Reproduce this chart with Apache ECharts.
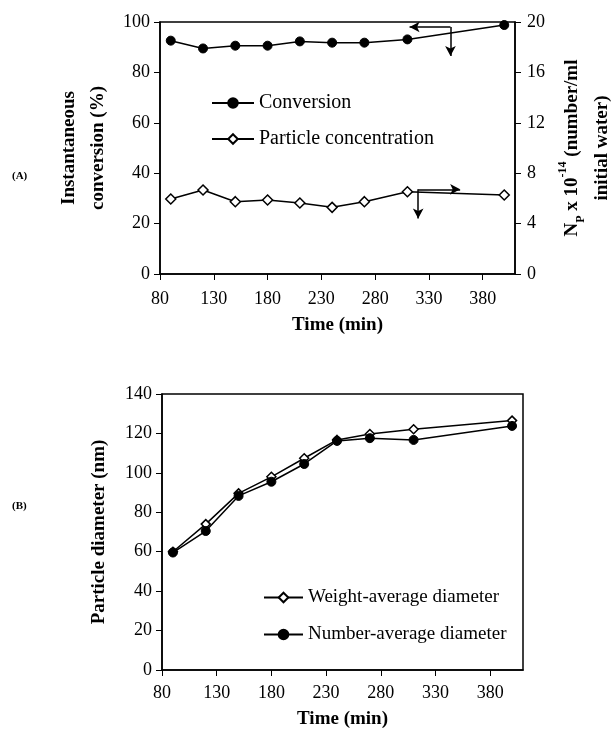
<!DOCTYPE html>
<html>
<head>
<meta charset="utf-8">
<script src="https://cdn.jsdelivr.net/npm/echarts@6/dist/echarts.min.js"></script>
<style>
    html, body {margin: 0; padding: 0; background: #fff;}
    #chart {width: 615px; height: 740px;}
</style>
</head>
<body>
<div id="chart"></div>
<script>
// (A) conversion and particle concentration
const timeA = [90, 120, 150, 180, 210, 240, 270, 310, 400];
const conversion = [92.6, 89.5, 90.6, 90.6, 92.3, 91.8, 91.8, 93.1, 98.8];
const particleConc = [5.95, 6.67, 5.74, 5.87, 5.63, 5.29, 5.74, 6.53, 6.27];

// (B) particle diameters
const timeB = [90, 120, 150, 180, 210, 240, 270, 310, 400];
const weightDiam = [60, 74, 89.6, 98, 107.4, 116.7, 119.7, 122.1, 126.5];
const numberDiam = [59.6, 70.5, 88.3, 95.5, 104.5, 116.2, 117.6, 116.7, 123.8];

const timeTicks = [80, 130, 180, 230, 280, 330, 380];

const serif = 'Liberation Serif';
const black = '#000';

const pair = (xs, ys) => xs.map((x, i) => [x, ys[i]]);

function xAxisConf(gridIndex, margin, gap) {
    return {
        type: 'value', gridIndex: gridIndex, min: 80, max: 410,
        axisLine: {show: true, lineStyle: {color: black, width: 1.5}},
        axisTick: {show: true, inside: false, length: 6, lineStyle: {color: black}, customValues: timeTicks},
        axisLabel: {color: black, fontFamily: serif, fontSize: 18, margin: margin, customValues: timeTicks},
        splitLine: {show: false},
        name: 'Time (min)', nameLocation: 'middle', nameGap: gap,
        nameTextStyle: {color: black, fontFamily: serif, fontSize: 19, fontWeight: 'bold'}
    };
}

function yAxisConf(gridIndex, max, interval, position) {
    return {
        type: 'value', gridIndex: gridIndex, min: 0, max: max, interval: interval, position: position,
        axisLine: {show: true, lineStyle: {color: black, width: 1.5}},
        axisTick: {show: true, length: 6, lineStyle: {color: black}},
        axisLabel: {color: black, fontFamily: serif, fontSize: 18, margin: 10},
        splitLine: {show: false}
    };
}

const yLeftA = yAxisConf(0, 100, 20, 'left');
yLeftA.name = 'Instantaneous\nconversion (%)';
yLeftA.nameLocation = 'middle';
yLeftA.nameGap = 47;
yLeftA.nameRotate = 90;
yLeftA.nameTextStyle = {color: black, fontFamily: serif, fontSize: 19, fontWeight: 'bold', lineHeight: 29, align: 'center'};

const yRightA = yAxisConf(0, 20, 4, 'right');
yRightA.axisLabel.margin = 12;
yRightA.name = '{b|N}{s|P}{b| x 10}{sup|-14}{b| (number/ml}\n{b|initial water)}';
yRightA.nameLocation = 'middle';
yRightA.nameGap = 42;
yRightA.nameRotate = 90;
yRightA.nameTextStyle = {
    color: black, fontFamily: serif, fontSize: 19, fontWeight: 'bold', lineHeight: 30, align: 'center',
    rich: {
        b: {fontFamily: serif, fontSize: 19, fontWeight: 'bold', color: black, lineHeight: 30},
        s: {fontFamily: serif, fontSize: 12, fontWeight: 'bold', color: black, verticalAlign: 'bottom', lineHeight: 30},
        sup: {fontFamily: serif, fontSize: 12, fontWeight: 'bold', color: black, verticalAlign: 'top', lineHeight: 30}
    }
};

const yLeftB = yAxisConf(1, 140, 20, 'left');
yLeftB.name = 'Particle diameter (nm)';
yLeftB.nameLocation = 'middle';
yLeftB.nameGap = 53;
yLeftB.nameRotate = 90;
yLeftB.nameTextStyle = {color: black, fontFamily: serif, fontSize: 19, fontWeight: 'bold'};

const lineBase = {type: 'line', lineStyle: {color: black, width: 1.5}, animation: false, z: 3};
const filledDot = {symbol: 'circle', symbolSize: 9, itemStyle: {color: black, borderColor: black, borderWidth: 1}};
const openDiamond = {symbol: 'diamond', symbolSize: 10, itemStyle: {color: '#fff', borderColor: black, borderWidth: 1.5}};

const arrowLine = {
    silent: true, symbol: ['none', 'arrow'], symbolSize: [8, 10], animation: false,
    label: {show: false}, lineStyle: {color: black, width: 1.5, type: 'solid'}
};

const option = {
    backgroundColor: '#fff',
    animation: false,
    grid: [
        {left: 160, top: 22, width: 355, height: 252, outerBoundsMode: 'none', containLabel: false,
            show: true, borderColor: black, borderWidth: 1.5, backgroundColor: 'transparent'},
        {left: 162, top: 394, width: 361, height: 276, outerBoundsMode: 'none', containLabel: false,
            show: true, borderColor: black, borderWidth: 1.5, backgroundColor: 'transparent'}
    ],
    xAxis: [xAxisConf(0, 16, 42), xAxisConf(1, 14, 40)],
    yAxis: [yLeftA, yRightA, yLeftB],
    legend: [
        {
            data: ['Conversion', 'Particle concentration'], orient: 'vertical', left: 206, top: 88,
            itemWidth: 42, itemHeight: 12, itemGap: 16,
            textStyle: {color: black, fontFamily: serif, fontSize: 20}
        },
        {
            data: ['Weight-average diameter', 'Number-average diameter'], orient: 'vertical', left: 258, top: 583,
            itemWidth: 39, itemHeight: 12, itemGap: 18,
            textStyle: {color: black, fontFamily: serif, fontSize: 19}
        }
    ],
    graphic: [
        {type: 'text', left: 12, top: 171, style: {text: '(A)', font: 'bold 11px "Liberation Serif"', fill: black}},
        {type: 'text', left: 12, top: 501, style: {text: '(B)', font: 'bold 11px "Liberation Serif"', fill: black}}
    ],
    series: [
        Object.assign({}, lineBase, filledDot, {
            name: 'Conversion', xAxisIndex: 0, yAxisIndex: 0, data: pair(timeA, conversion),
            markLine: Object.assign({}, arrowLine, {
                data: [
                    [{coord: [350, 98]}, {coord: [312, 98]}],
                    [{coord: [350, 98]}, {coord: [350, 86.5]}]
                ]
            })
        }),
        Object.assign({}, lineBase, openDiamond, {
            name: 'Particle concentration', xAxisIndex: 0, yAxisIndex: 1, data: pair(timeA, particleConc),
            markLine: Object.assign({}, arrowLine, {
                data: [
                    [{coord: [320, 6.72]}, {coord: [359, 6.72]}],
                    [{coord: [320, 6.72]}, {coord: [320, 4.4]}]
                ]
            })
        }),
        Object.assign({}, lineBase, openDiamond, {
            name: 'Weight-average diameter', xAxisIndex: 1, yAxisIndex: 2, symbolSize: 9, data: pair(timeB, weightDiam)
        }),
        Object.assign({}, lineBase, filledDot, {
            name: 'Number-average diameter', xAxisIndex: 1, yAxisIndex: 2, data: pair(timeB, numberDiam)
        })
    ]
};

const chart = echarts.init(document.getElementById('chart'), null, {renderer: 'canvas'});
chart.setOption(option);
</script>
</body>
</html>
